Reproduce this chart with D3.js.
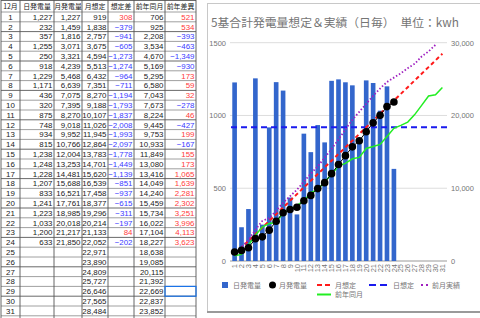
<!DOCTYPE html>
<html>
<head>
<meta charset="utf-8">
<script src="https://cdn.jsdelivr.net/npm/d3@7"></script>
<style>
  body { margin: 0; background: #fff; }
  svg { display: block; }
</style>
</head>
<body>
<svg id="chart" width="480" height="318"></svg>
<script>
/* DATA */
const days = d3.range(1, 32).map(String);
const daily = [1227, 232, 357, 1255, 250, 918, 1229, 1171, 436, 320, 875, 748, 934, 815, 1238, 1248, 1228, 1207, 833, 1241, 1223, 1033, 1200, 633];
const monthly = [1227, 1459, 1816, 3071, 3321, 4239, 5468, 6639, 7075, 7395, 8270, 9018, 9952, 10766, 12004, 13253, 14481, 15688, 16521, 17761, 18985, 20018, 21217, 21850];
const forecast = [919, 1838, 2757, 3675, 4594, 5513, 6432, 7351, 8270, 9188, 10107, 11026, 11945, 12864, 13783, 14701, 15620, 16539, 17458, 18377, 19296, 20214, 21133, 22052, 22971, 23890, 24809, 25727, 26646, 27565, 28484];
const forecastDiff = [308, -379, -941, -605, -1273, -1274, -964, -711, -1194, -1793, -1837, -2008, -1993, -2097, -1778, -1449, -1139, -851, -937, -615, -311, -197, 84, -202];
const lastYear = [706, 925, 2208, 3534, 4670, 5169, 5295, 6580, 7043, 7673, 8224, 9445, 9753, 10933, 11849, 13080, 13416, 14049, 14240, 15459, 15734, 16022, 17104, 18227, 18638, 19085, 20115, 21392, 22669, 22837, 23852];
const lastYearDiff = [521, 534, -393, -463, -1349, -930, 173, 59, 32, -278, 46, -427, 199, -167, 155, 173, 1065, 1639, 2281, 2302, 3251, 3996, 4113, 3623];
const dailyForecast = 919;
// previous month (30 days)
const prevMonth = [1000, 1900, 2900, 4300, 5500, 5900, 6900, 8000, 8900, 9800, 10900, 12000, 13000, 14200, 15400, 16700, 18100, 19400, 20500, 21600, 22700, 23700, 24600, 25200, 25800, 26500, 27100, 28100, 28800, 29700];

const headers = ["12月", "日発電量", "月発電量", "月想定", "想定差", "前年同月", "前年差異"];
const leftTicks = [0, 500, 1000, 1500];
const rightTicks = [0, 10000, 20000, 30000];

const svg = d3.select("#chart");
const fmt = d3.format(",");
const jp = "'Liberation Sans', 'Noto Sans CJK JP', sans-serif";

/* TABLE */
const colEdges = [1, 20, 54, 82, 108, 134, 165, 196];
const headH = 12, rowH = 9.8;
const table = svg.append("g").attr("font-family", jp).attr("font-size", 7.9);

const rows = days.map((d, i) => [
  d,
  daily[i] != null ? fmt(daily[i]) : "",
  monthly[i] != null ? fmt(monthly[i]) : "",
  fmt(forecast[i]),
  forecastDiff[i] != null ? forecastDiff[i] : null,
  fmt(lastYear[i]),
  lastYearDiff[i] != null ? lastYearDiff[i] : null
]);

// header
headers.forEach((h, j) => {
  table.append("text")
    .attr("x", (colEdges[j] + colEdges[j + 1]) / 2)
    .attr("y", headH - 3)
    .attr("text-anchor", "middle")
    .attr("font-family", "'Noto Sans CJK JP', sans-serif")
    .attr("font-size", 6.9)
    .attr("fill", "#222")
    .text(h);
});

rows.forEach((r, i) => {
  const y = headH + i * rowH + rowH - 2;
  r.forEach((v, j) => {
    if (v === null || v === "") return;
    const t = table.append("text").attr("y", y);
    if (j === 0) {
      t.attr("x", (colEdges[0] + colEdges[1]) / 2).attr("text-anchor", "middle").attr("fill", "#222");
    } else {
      t.attr("x", colEdges[j + 1] - 1.5).attr("text-anchor", "end").attr("fill", "#222");
    }
    if (j === 4 || j === 6) {
      t.attr("fill", v < 0 ? "#3a3aff" : "#ff3b3b");
      v = fmt(v);
    }
    t.text(v);
  });
});

// grid lines of the table
d3.range(0, 33).forEach(k => {
  const y = k === 0 ? 0.5 : headH + (k - 1) * rowH;
  table.append("line")
    .attr("x1", colEdges[0]).attr("x2", colEdges[colEdges.length - 1])
    .attr("y1", y).attr("y2", y)
    .attr("stroke", k % 3 === 0 ? "#444" : "#888")
    .attr("stroke-width", 0.8);
});
colEdges.forEach(x => {
  table.append("line")
    .attr("x1", x).attr("x2", x)
    .attr("y1", 0).attr("y2", 318)
    .attr("stroke", "#555")
    .attr("stroke-width", 0.9);
});
// selected cell
table.append("rect")
  .attr("x", colEdges[6]).attr("y", headH + 28 * rowH)
  .attr("width", colEdges[7] - colEdges[6]).attr("height", rowH)
  .attr("fill", "none").attr("stroke", "#1a73e8").attr("stroke-width", 1.2);

/* CHART PANEL */
svg.append("rect")
  .attr("x", 207.5).attr("y", 3.5).attr("width", 280).attr("height", 308)
  .attr("fill", "#fff").attr("stroke", "#c8c8c8");
svg.append("line")
  .attr("x1", 207).attr("x2", 480).attr("y1", 312).attr("y2", 312)
  .attr("stroke", "#9a9a9a").attr("stroke-width", 2);

svg.append("text")
  .attr("x", 211).attr("y", 27)
  .attr("font-family", "'Noto Sans CJK JP', sans-serif")
  .attr("font-size", 11.8)
  .attr("fill", "#757575")
  .text("5基合計発電量想定＆実績（日毎）　単位：kwh");

const x = d3.scaleBand().domain(days).range([230, 447]).padding(0.33);
const cx = d => x(d) + x.bandwidth() / 2;
const yL = d3.scaleLinear().domain([0, 1500]).range([261, 42.7]);
const yR = d3.scaleLinear().domain([0, 30000]).range([261, 42.7]);

// grid
svg.append("g").selectAll("line")
  .data(leftTicks)
  .join("line")
  .attr("x1", 230).attr("x2", 447)
  .attr("y1", d => yL(d)).attr("y2", d => yL(d))
  .attr("stroke", d => d === 0 ? "#999" : "#ddd")
  .attr("stroke-width", 1);

// left axis
const axL = svg.append("g")
  .attr("transform", "translate(226,0)")
  .call(d3.axisLeft(yL).tickValues(leftTicks).tickSize(0).tickFormat(d3.format("d")));
axL.select(".domain").remove();
axL.selectAll("text").attr("fill", "#757575").attr("font-size", 7.5).attr("font-family", "'Liberation Sans', sans-serif").attr("x", 0);

// right axis
const axR = svg.append("g")
  .attr("transform", "translate(451,0)")
  .call(d3.axisRight(yR).tickValues(rightTicks).tickSize(0).tickFormat(fmt));
axR.select(".domain").remove();
axR.selectAll("text").attr("fill", "#757575").attr("font-size", 7.5).attr("font-family", "'Liberation Sans', sans-serif").attr("x", 0);

// x axis labels
const axX = svg.append("g")
  .attr("transform", "translate(0,261)")
  .call(d3.axisBottom(x).tickSize(0));
axX.select(".domain").remove();
axX.selectAll("text")
  .attr("fill", "#757575").attr("font-size", 7.5)
  .attr("font-family", "'Liberation Sans', sans-serif")
  .attr("transform", "rotate(-90)")
  .attr("text-anchor", "end")
  .attr("x", -3).attr("y", 0).attr("dy", "0.35em");

// bars
svg.append("g").selectAll("rect")
  .data(daily)
  .join("rect")
  .attr("x", (d, i) => x(days[i]))
  .attr("width", x.bandwidth())
  .attr("y", d => yL(d))
  .attr("height", d => yL(0) - yL(d))
  .attr("fill", "#3366cc");

// daily forecast
svg.append("line")
  .attr("x1", 231).attr("x2", 448)
  .attr("y1", yL(dailyForecast)).attr("y2", yL(dailyForecast))
  .attr("stroke", "#1a1aee").attr("stroke-width", 2)
  .attr("stroke-dasharray", "6,4");

const lineR = d3.line().x((d, i) => cx(days[i])).y(d => yR(d));

// month forecast
svg.append("path").datum(forecast)
  .attr("d", lineR).attr("fill", "none")
  .attr("stroke", "#ff1a1a").attr("stroke-width", 2)
  .attr("stroke-dasharray", "4,3");

// previous month
svg.append("path").datum(prevMonth)
  .attr("d", lineR).attr("fill", "none")
  .attr("stroke", "#a020c0").attr("stroke-width", 1.8)
  .attr("stroke-dasharray", "1.5,2");

// last year same month
svg.append("path").datum(lastYear)
  .attr("d", lineR).attr("fill", "none")
  .attr("stroke", "#22ee22").attr("stroke-width", 1.5);

// monthly actual
svg.append("path").datum(monthly)
  .attr("d", lineR).attr("fill", "none")
  .attr("stroke", "#000").attr("stroke-width", 1);
svg.append("g").selectAll("circle")
  .data(monthly)
  .join("circle")
  .attr("cx", (d, i) => cx(days[i]))
  .attr("cy", d => yR(d))
  .attr("r", 3.8)
  .attr("fill", "#000");

/* LEGEND */
const lg = svg.append("g")
  .attr("font-family", "'Noto Sans CJK JP', sans-serif")
  .attr("font-size", 7)
  .attr("fill", "#757575");

lg.append("rect").attr("x", 222).attr("y", 282).attr("width", 6).attr("height", 6).attr("fill", "#3366cc");
lg.append("text").attr("x", 233).attr("y", 287.5).text("日発電量");
lg.append("circle").attr("cx", 272.5).attr("cy", 285).attr("r", 3.5).attr("fill", "#000");
lg.append("text").attr("x", 279).attr("y", 287.5).text("月発電量");
lg.append("line").attr("x1", 317).attr("x2", 331).attr("y1", 285).attr("y2", 285)
  .attr("stroke", "#ff1a1a").attr("stroke-width", 2).attr("stroke-dasharray", "5,3");
lg.append("text").attr("x", 335).attr("y", 287.5).text("月想定");
lg.append("line").attr("x1", 369).attr("x2", 389).attr("y1", 285).attr("y2", 285)
  .attr("stroke", "#1a1aee").attr("stroke-width", 2).attr("stroke-dasharray", "7,4");
lg.append("text").attr("x", 393).attr("y", 287.5).text("日想定");
lg.append("line").attr("x1", 421).attr("x2", 429).attr("y1", 285).attr("y2", 285)
  .attr("stroke", "#a020c0").attr("stroke-width", 2).attr("stroke-dasharray", "2,3");
lg.append("text").attr("x", 432).attr("y", 287.5).text("前月実績");
lg.append("line").attr("x1", 317).attr("x2", 331).attr("y1", 294.5).attr("y2", 294.5)
  .attr("stroke", "#22ee22").attr("stroke-width", 2);
lg.append("text").attr("x", 335).attr("y", 297).text("前年同月");
</script>
</body>
</html>
